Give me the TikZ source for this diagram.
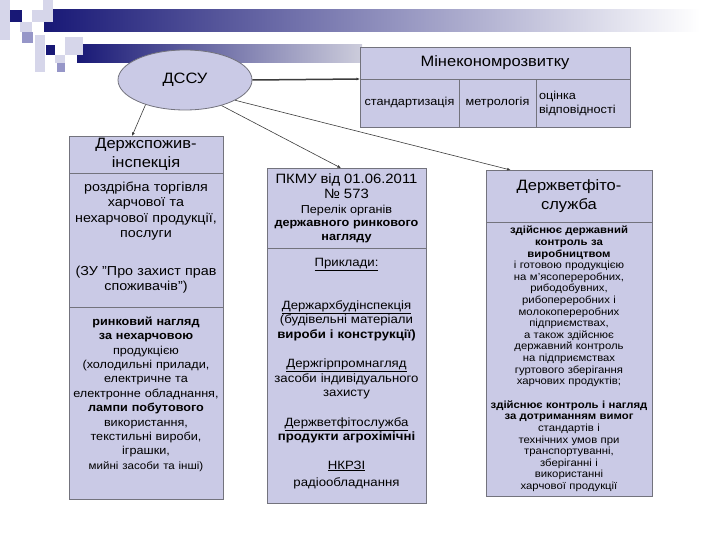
\documentclass[tikz,border=0pt]{standalone}
\usepackage{fontspec}
\setmainfont{Liberation Sans}[FakeStretch=1.1]
\usepackage{tikz}
\usetikzlibrary{positioning, shapes.geometric, arrows.meta}

\definecolor{boxfill}{RGB}{202,202,230}
\definecolor{boxline}{RGB}{115,115,125}
\definecolor{navy}{RGB}{24,24,118}
\definecolor{barend}{RGB}{205,205,220}
\definecolor{palesq}{RGB}{214,214,234}
\definecolor{midsq}{RGB}{150,150,200}
\definecolor{linkgray}{RGB}{60,60,60}

\tikzset{
  orgbox/.style={draw=boxline, fill=boxfill, line width=0.8pt, inner sep=2pt, outer sep=0pt,
    align=center, anchor=north west},
  orgtitle/.style={orgbox, font=\fontsize{15}{19}\selectfont},
  link/.style={draw=linkgray, line width=0.6pt, -{Latex[length=3.5pt,width=3pt]}},
}

\begin{document}
\begin{tikzpicture}[x=1pt, y=-1pt]
  \useasboundingbox (0,0) rectangle (720,540);

  % Template bars and squares
  \shade[left color=navy, right color=white] (44,10) rectangle (700,32);
  \shade[left color=navy, right color=barend] (77,45) rectangle (362,63);
  \foreach \xa/\ya/\xb/\yb in {0/0/10/40, 32/10/53/22, 43/0/53/10, 20/22/32/32,
      35/35/45/72, 65/37/83/55, 55/55/65/63} {
    \fill[palesq] (\xa,\ya) rectangle (\xb,\yb);
  }
  \fill[midsq] (22,32) rectangle (33,43);
  \fill[midsq] (57,63) rectangle (65,72);
  \fill[navy] (10,10) rectangle (22,22);
  \fill[navy] (46,45) rectangle (55,55);

  % DSSU
  \node[ellipse, draw=boxline, fill=boxfill, line width=0.8pt, minimum width=134pt,
    minimum height=60pt, font=\fontsize{15}{18}\selectfont] (dssu) at (185,80) {ДССУ};

  % Ministry of economy
  \node[orgtitle, minimum width=270pt, minimum height=32pt, text width=266pt] (mineco) at (360,47) {Мінекономрозвитку};
  \node[orgbox, minimum width=99pt, minimum height=48pt, text width=95pt,
    font=\fontsize{11.5}{14}\selectfont] (standart) at (mineco.south west) {стандартизація};
  \node[orgbox, minimum width=77pt, minimum height=48pt, text width=73pt,
    font=\fontsize{11.5}{14}\selectfont, right=0pt of standart] (metrol) {метрологія};
  \node[orgbox, minimum width=94pt, minimum height=48pt, text width=88pt, align=left,
    font=\fontsize{11.5}{14}\selectfont, right=0pt of metrol] (ocinka) {оцінка\\відповідності};

  % Left column
  \node[orgtitle, minimum width=154pt, minimum height=37pt, text width=150pt] (dsptitle) at (69,136) {Держспожив-\\інспекція};
  \node[orgbox, minimum width=154pt, minimum height=134pt, text width=152pt, inner sep=1pt,
    font=\fontsize{13}{15.5}\selectfont, below=0pt of dsptitle] (dspretail)
    {роздрібна торгівля\\харчової та\\нехарчової продукції,\\послуги\\[22pt]
     (ЗУ "Про захист прав\\споживачів")\rule[-8pt]{0pt}{8pt}};
  \node[orgbox, minimum width=154pt, minimum height=192pt, text width=152pt, inner sep=1pt,
    font=\fontsize{11.5}{14.4}\selectfont, below=0pt of dspretail] (dspmarket)
    {\textbf{ринковий нагляд}\\\textbf{за нехарчовою}\\продукцією\\(холодильні прилади,\\
     електричне та\\електронне обладнання,\\\textbf{лампи побутового}\\використання,\\
     текстильні вироби,\\іграшки,\\{\fontsize{10.5}{14.4}\selectfont мийні засоби та інші)}\rule[-20pt]{0pt}{20pt}};

  % Middle column
  \node[orgbox, minimum width=159pt, minimum height=80pt, text width=155pt,
    font=\fontsize{11.5}{13.5}\selectfont] (pkmu) at (267,168)
    {{\fontsize{13.5}{16}\selectfont ПКМУ від 01.06.2011}\\[2pt]
     {\fontsize{13.5}{16}\selectfont № 573}\\[1pt]
     Перелік органів\\\textbf{державного ринкового}\\\textbf{нагляду}};
  \node[orgbox, minimum width=159pt, minimum height=255pt, text width=155pt,
    font=\fontsize{12}{14.5}\selectfont, below=0pt of pkmu] (examples)
    {\underline{Приклади:}\\[28pt]
     \underline{Держархбудінспекція}\\(будівельні матеріали\\\textbf{вироби і конструкції)}\\[15pt]
     \underline{Держгірпромнагляд}\\засоби індивідуального\\захисту\\[15pt]
     \underline{Держветфітослужба}\\\textbf{продукти агрохімічні}\\[14pt]
     \underline{НКРЗІ}\\[3pt]радіообладнання\rule[-6pt]{0pt}{6pt}};

  % Right column
  \node[orgtitle, minimum width=166pt, minimum height=52pt, text width=162pt] (vetfito) at (486,170) {Держветфіто-\\служба};
  \node[orgbox, minimum width=166pt, minimum height=274pt, text width=164pt, inner sep=1pt,
    font=\fontsize{10.3}{11.6}\selectfont, below=0pt of vetfito] (vetcontrol)
    {\textbf{здійснює державний}\\\textbf{контроль за}\\\textbf{виробництвом}\\
     і готовою продукцією\\на м'ясопереробних,\\рибодобувних,\\рибопереробних і\\
     молокопереробних\\підприємствах,\\а також здійснює\\державний контроль\\
     на підприємствах\\гуртового зберігання\\харчових продуктів;\\[12pt]
     \textbf{здійснює контроль і нагляд}\\\textbf{за дотриманням вимог}\\стандартів і\\
     технічних умов при\\транспортуванні,\\зберіганні і\\використанні\\
     харчової продукції};

  % Links from DSSU
  \draw[link, line width=1.5pt] (dssu.east) -- (mineco.south west);
  \draw[link] (dssu.212) -- (dsptitle.127);
  \draw[link] (dssu.325) -- (pkmu.98);
  \draw[link] (dssu.338) -- (vetfito.156);
\end{tikzpicture}
\end{document}
